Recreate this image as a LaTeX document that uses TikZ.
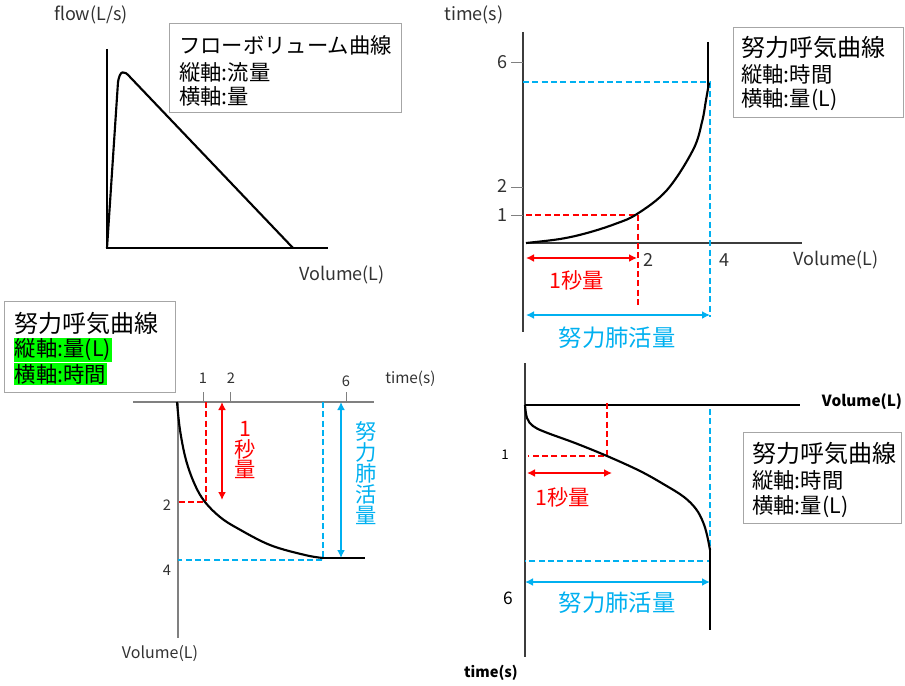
\documentclass[tikz,border=0pt]{standalone}
\usepackage{fontspec}
\setmainfont{Noto Sans CJK JP}
\usetikzlibrary{arrows.meta}
\definecolor{cblue}{RGB}{0,176,240}
\definecolor{cred}{RGB}{255,0,0}
\definecolor{cgreen}{RGB}{0,255,0}
\definecolor{axisgray}{RGB}{60,60,60}
\definecolor{txtgray}{RGB}{50,50,50}
\begin{document}
\begin{tikzpicture}[x=0.75pt,y=-0.75pt,
  curve/.style={line width=1.6pt, black, line join=round},
  axisline/.style={line width=0.9pt, axisgray},
  tickline/.style={line width=0.6pt, gray},
  reddash/.style={cred, dash pattern=on 4.5pt off 2.5pt, line width=1.3pt},
  bluedash/.style={cblue, dash pattern=on 4.5pt off 2.5pt, line width=1.3pt},
  redarr/.style={cred, line width=1.5pt, {Latex[length=6pt,width=6pt]}-{Latex[length=6pt,width=6pt]}},
  bluearr/.style={cblue, line width=1.5pt, {Latex[length=6pt,width=6pt]}-{Latex[length=6pt,width=6pt]}},
  infobox/.style={draw=gray!70, line width=0.8pt, fill=white},
  titletxt/.style={anchor=west, inner sep=0pt, font=\fontsize{18}{20}\selectfont},
  linetxt/.style={anchor=west, inner sep=0pt, font=\fontsize{16}{18}\selectfont},
  axlab/.style={inner sep=0pt, text=txtgray, font=\fontsize{13.5}{15}\selectfont},
  ticklab/.style={inner sep=0pt, text=txtgray, font=\fontsize{12.5}{14}\selectfont},
  redlab/.style={inner sep=0pt, text=cred, font=\fontsize{16}{18}\selectfont},
  bluelab/.style={inner sep=0pt, text=cblue, font=\fontsize{17.5}{20}\selectfont}
]
\useasboundingbox (0,0) rectangle (905,685);

% ===================== Top-left: flow-volume =====================
\node[axlab] (tlflow) at (91,15) {flow(L/s)};
\draw[axisline, black] (107,49) -- (107,248) -- (328,248);
\draw[curve] (107,248) -- (118,82) .. controls (120,70) and (124,70) .. (130,77) -- (293,248);
\node[axlab] (tlvol) at (342,275) {Volume(L)};
\node[infobox, anchor=north west, minimum width=174pt, minimum height=67pt] (tlbox) at (169,23) {};
\node[linetxt, font=\fontsize{16}{18}\selectfont] (tlt1) at (179,45) {フローボリューム曲線};
\node[linetxt] (tlt2) at (179,72) {縦軸:流量};
\node[linetxt] (tlt3) at (179,96) {横軸:量};

% ===================== Top-right =====================
\node[axlab] (trtime) at (474,15) {time(s)};
\draw[axisline] (523,32) -- (523,332);
\draw[axisline] (526,243) -- (802,243);
\draw[tickline] (511,62) -- (523,62);
\draw[tickline] (511,187) -- (523,187);
\draw[tickline] (511,215) -- (523,215);
\node[ticklab, font=\fontsize{13.5}{15}\selectfont] (tr6) at (502,62) {6};
\node[ticklab, font=\fontsize{13.5}{15}\selectfont] (tr2) at (502,186) {2};
\node[ticklab, font=\fontsize{13.5}{15}\selectfont] (tr1) at (502,215) {1};
\node[ticklab, font=\fontsize{13.5}{15}\selectfont] (trx2) at (648,260) {2};
\node[ticklab, font=\fontsize{13.5}{15}\selectfont] (trx4) at (724,260) {4};
\node[axlab] (trvol) at (836,260) {Volume(L)};
% dashed guides
\draw[bluedash] (523,82) -- (710,82) -- (710,317);
\draw[reddash] (526,215) -- (638,215) -- (638,308);
% curve
\draw[curve] plot[smooth, tension=0.6] coordinates {(526,243) (560,239) (587,233) (615,224) (637,214) (667,190) (693,150) (702,122) (706,100) (709,83)};
\draw[curve] (708,42) -- (708,88);
% arrows
\draw[redarr] (526,258) -- (637,258);
\draw[bluearr] (526,315) -- (710,315);
\node[redlab] (tr1s) at (577,280) {1秒量};
\node[bluelab] (trfvc) at (617,338) {努力肺活量};
\node[infobox, anchor=north west, minimum width=127.5pt, minimum height=67.5pt] (trbox) at (733,27) {};
\node[titletxt] (trt1) at (741,47) {努力呼気曲線};
\node[linetxt] (trt2) at (741,74) {縦軸:時間};
\node[linetxt] (trt3) at (741,100) {横軸:量(L)};

% ===================== Bottom-left =====================
\node[infobox, anchor=north west, minimum width=128pt, minimum height=68pt] (blbox) at (4,301) {};
\node[titletxt] (blt1) at (14,323) {努力呼気曲線};
\node[linetxt, fill=cgreen, inner sep=0.5pt] (blt2) at (14,350) {縦軸:量(L)};
\node[linetxt, fill=cgreen, inner sep=0.5pt] (blt3) at (14,374) {横軸:時間};
\draw[axisline, gray] (133,402) -- (374,402);
\draw[axisline, gray] (178,402) -- (178,638);
\draw[tickline] (203,392) -- (203,402);
\draw[tickline] (230,392) -- (230,402);
\draw[tickline] (346,392) -- (346,402);
\node[ticklab, font=\fontsize{11}{13}\selectfont] (bl1) at (203,378) {1};
\node[ticklab, font=\fontsize{11}{13}\selectfont] (bl2) at (231,378) {2};
\node[ticklab, font=\fontsize{11}{13}\selectfont] (bl6) at (346,381) {6};
\node[ticklab, anchor=west, font=\fontsize{11.5}{13}\selectfont] (bltime) at (385,379) {time(s)};
\node[ticklab, font=\fontsize{11}{13}\selectfont] (bly2) at (167,505) {2};
\node[ticklab, font=\fontsize{11}{13}\selectfont] (bly4) at (167,570) {4};
\node[ticklab, font=\fontsize{12}{14}\selectfont] (blvol) at (160,654) {Volume(L)};
\draw[reddash] (206,402) -- (206,502) -- (176,502);
\draw[bluedash] (323,402) -- (323,560) -- (178,560);
\draw[curve] plot[smooth, tension=0.6] coordinates {(177,402) (180,430) (186,460) (195,485) (205,502) (220,517) (237,528) (270,545) (305,555) (323,558)};
\draw[line width=2pt] (323,558) -- (365,558);
\draw[redarr] (222,402) -- (222,500);
\draw[bluearr] (341,402) -- (341,558);
\node[redlab, align=center, font=\fontsize{16}{15.5}\selectfont] (bl1s) at (245,450) {1\\秒\\量};
\node[bluelab, align=center, font=\fontsize{16}{15.8}\selectfont] (blfvc) at (366,473) {努\\力\\肺\\活\\量};

% ===================== Bottom-right =====================
\draw[axisline] (525,363) -- (525,657);
\draw[axisline, black] (525,405) -- (800,405);
\node[inner sep=0pt, font=\bfseries\fontsize{11.5}{13}\selectfont] (brvol) at (862,402) {Volume(L)};
\node[ticklab, text=black, font=\fontsize{10}{12}\selectfont] (br1) at (505,455) {1};
\node[ticklab, text=black, font=\fontsize{13}{15}\selectfont] (br6) at (508,598) {6};
\node[inner sep=0pt, font=\bfseries\fontsize{11}{13}\selectfont] (brtime) at (491,673) {time(s)};
\draw[reddash] (607,403) -- (607,456) -- (528,456);
\draw[bluedash] (710,409) -- (710,561) -- (525,561);
\draw[curve] plot[smooth, tension=0.6] coordinates {(525,405) (527,418) (533,426) (545,432) (575,443) (607,456) (640,471) (665,485) (684,497) (696,509) (703,522) (707,535) (710,550)};
\draw[curve] (710,550) -- (710,630);
\draw[redarr] (527,473) -- (612,473);
\draw[bluearr] (525,582) -- (710,582);
\node[redlab] (br1s) at (563,497) {1秒量};
\node[bluelab] (brfvc) at (617,603) {努力肺活量};
\node[infobox, anchor=north west, minimum width=118.5pt, minimum height=68pt] (brbox) at (743,432) {};
\node[titletxt] (brt1) at (752,453) {努力呼気曲線};
\node[linetxt] (brt2) at (752,480) {縦軸:時間};
\node[linetxt] (brt3) at (752,507) {横軸:量(L)};
\end{tikzpicture}
\end{document}
